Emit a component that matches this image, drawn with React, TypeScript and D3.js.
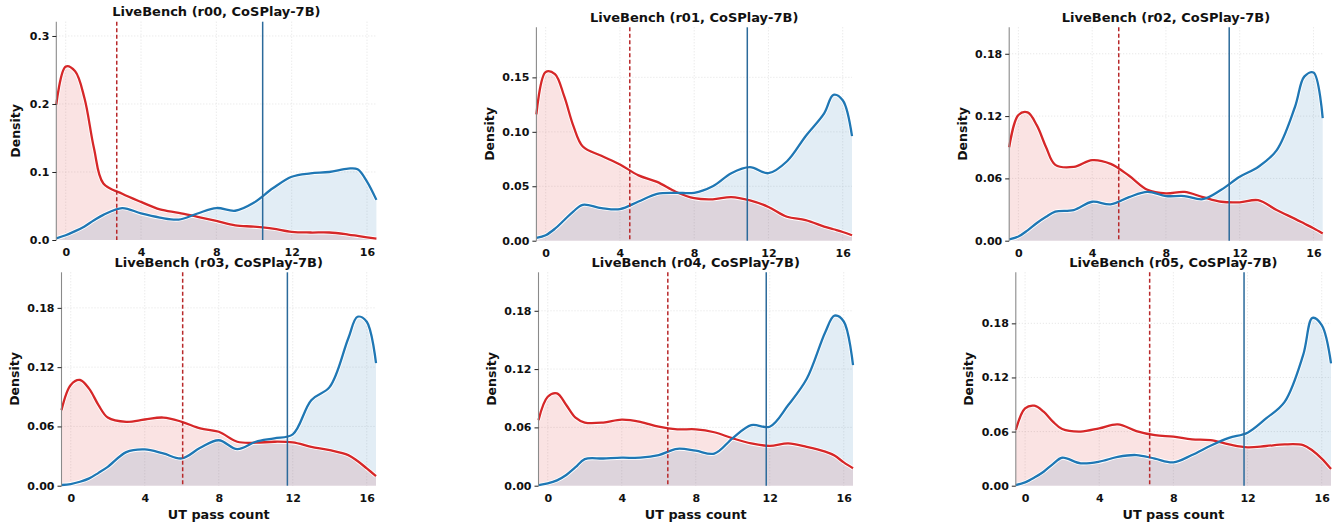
import React, { useEffect, useRef } from 'react';
import * as d3 from 'd3';

// UT pass count grid the densities were read at
const xGrid = [-0.5, 0, 0.5, 1, 1.5, 2, 3, 4, 5, 6, 7, 8, 9, 10, 11, 12, 13, 14, 15, 15.5, 16, 16.5];

const runs = ['r00', 'r01', 'r02', 'r03', 'r04', 'r05'];

const red_r00 = [0.199, 0.255, 0.248, 0.208, 0.135, 0.083, 0.068, 0.056, 0.045, 0.040, 0.034, 0.028, 0.0216, 0.0196, 0.0167, 0.012, 0.011, 0.011, 0.008, 0.006, 0.004, 0.002];
const blue_r00 = [0.0025, 0.007, 0.013, 0.020, 0.029, 0.037, 0.047, 0.039, 0.033, 0.030, 0.039, 0.047, 0.043, 0.055, 0.076, 0.093, 0.098, 0.100, 0.105, 0.104, 0.086, 0.059];

const red_r01 = [0.116, 0.155, 0.153, 0.1325, 0.105, 0.0865, 0.078, 0.070, 0.060, 0.054, 0.045, 0.039, 0.038, 0.040, 0.037, 0.031, 0.022, 0.019, 0.013, 0.0105, 0.008, 0.005];
const blue_r01 = [0.0025, 0.005, 0.011, 0.019, 0.027, 0.033, 0.030, 0.029, 0.036, 0.043, 0.044, 0.044, 0.050, 0.062, 0.0675, 0.062, 0.073, 0.096, 0.117, 0.134, 0.129, 0.096];

const red_r02 = [0.090, 0.121, 0.1235, 0.111, 0.090, 0.073, 0.071, 0.0776, 0.074, 0.0625, 0.049, 0.0455, 0.047, 0.042, 0.0375, 0.037, 0.039, 0.0295, 0.021, 0.0165, 0.012, 0.007];
const blue_r02 = [0.0013, 0.004, 0.010, 0.017, 0.023, 0.028, 0.0295, 0.0375, 0.035, 0.042, 0.047, 0.043, 0.043, 0.040, 0.049, 0.0615, 0.071, 0.087, 0.129, 0.158, 0.162, 0.118];

const red_r03 = [0.0765, 0.102, 0.107, 0.098, 0.0816, 0.069, 0.0647, 0.067, 0.069, 0.0647, 0.058, 0.0546, 0.0445, 0.0435, 0.0445, 0.0438, 0.0394, 0.036, 0.031, 0.025, 0.0175, 0.0098];
const blue_r03 = [0.0007, 0.0017, 0.004, 0.0074, 0.013, 0.019, 0.034, 0.0367, 0.0327, 0.0276, 0.0384, 0.046, 0.037, 0.0445, 0.048, 0.052, 0.0866, 0.100, 0.149, 0.171, 0.166, 0.124];

const red_r04 = [0.0675, 0.0915, 0.095, 0.083, 0.070, 0.065, 0.065, 0.068, 0.0658, 0.0607, 0.058, 0.058, 0.055, 0.0487, 0.0435, 0.041, 0.0435, 0.040, 0.035, 0.031, 0.024, 0.018];
const blue_r04 = [0.0007, 0.0024, 0.0055, 0.011, 0.019, 0.0274, 0.028, 0.0288, 0.0288, 0.0315, 0.038, 0.036, 0.033, 0.049, 0.0624, 0.0607, 0.083, 0.110, 0.158, 0.175, 0.169, 0.124];

const red_r05 = [0.0617, 0.0857, 0.0887, 0.082, 0.071, 0.0628, 0.060, 0.0636, 0.068, 0.0606, 0.056, 0.0543, 0.0514, 0.0506, 0.0458, 0.0425, 0.044, 0.0458, 0.045, 0.039, 0.030, 0.0185];
const blue_r05 = [0.0007, 0.0037, 0.009, 0.0155, 0.024, 0.031, 0.0248, 0.0266, 0.032, 0.034, 0.030, 0.0259, 0.034, 0.0443, 0.053, 0.0588, 0.0746, 0.093, 0.145, 0.186, 0.178, 0.1356];

const redSeries = [red_r00, red_r01, red_r02, red_r03, red_r04, red_r05];
const blueSeries = [blue_r00, blue_r01, blue_r02, blue_r03, blue_r04, blue_r05];

// means (vertical reference lines)
const redMean = [2.71, 4.53, 5.44, 6.05, 6.49, 6.72];
const blueMean = [10.46, 10.86, 11.43, 11.71, 11.81, 11.81];

// axis limits and ticks
const yMax = [0.321, 0.196, 0.2055, 0.216, 0.2196, 0.2366];
const yTicks = [
  [0, 0.1, 0.2, 0.3],
  [0, 0.05, 0.1, 0.15],
  [0, 0.06, 0.12, 0.18],
  [0, 0.06, 0.12, 0.18],
  [0, 0.06, 0.12, 0.18],
  [0, 0.06, 0.12, 0.18],
];
const yDecimals = [1, 2, 2, 2, 2, 2];
const xTicks = [0, 4, 8, 12, 16];
const xDomain = [-0.5, 16.5];

// panel boxes in pixels
const boxes = [
  { l: 56.3, r: 376.4, t: 21.7, b: 240 },
  { l: 536.4, r: 852, t: 27.3, b: 240.7 },
  { l: 1009.2, r: 1322.7, t: 27.3, b: 240.7 },
  { l: 61.5, r: 376, t: 272.3, b: 485.7 },
  { l: 538.5, r: 853, t: 272.3, b: 485.7 },
  { l: 1015.8, r: 1331, t: 272.3, b: 485.7 },
];

const W = 1341;
const H = 527;
const FONT = '"DejaVu Sans", sans-serif';

function App() {
  const svgRef = useRef(null);

  useEffect(() => {
    const svg = d3.select(svgRef.current);
    svg.selectAll('*').remove();

    runs.forEach((run, i) => {
      const box = boxes[i];
      const g = svg.append('g');

      const x = d3.scaleLinear().domain(xDomain).range([box.l, box.r]);
      const y = d3.scaleLinear().domain([0, yMax[i]]).range([box.b, box.t]);

      // grid
      g.selectAll('.vgrid')
        .data(xTicks)
        .join('line')
        .attr('x1', d => x(d)).attr('x2', d => x(d))
        .attr('y1', box.t).attr('y2', box.b)
        .attr('stroke', '#dcdcdc').attr('stroke-width', 0.8)
        .attr('stroke-dasharray', '1,2');
      g.selectAll('.hgrid')
        .data(yTicks[i].slice(1))
        .join('line')
        .attr('x1', box.l).attr('x2', box.r)
        .attr('y1', d => y(d)).attr('y2', d => y(d))
        .attr('stroke', '#dcdcdc').attr('stroke-width', 0.8)
        .attr('stroke-dasharray', '1,2');

      const pts = (vals) => vals.map((v, k) => [xGrid[k], v]);

      const area = d3.area()
        .x(d => x(d[0]))
        .y0(y(0))
        .y1(d => y(d[1]))
        .curve(d3.curveCatmullRom);
      const line = d3.line()
        .x(d => x(d[0]))
        .y(d => y(d[1]))
        .curve(d3.curveCatmullRom);

      const red = pts(redSeries[i]);
      const blue = pts(blueSeries[i]);

      // fills
      g.append('path').attr('d', area(red))
        .attr('fill', '#d62728').attr('fill-opacity', 0.13);
      g.append('path').attr('d', area(blue))
        .attr('fill', '#1f77b4').attr('fill-opacity', 0.13);

      // white edges under the lines
      [red, blue].forEach(s => {
        g.append('path').attr('d', line(s))
          .attr('fill', 'none').attr('stroke', '#fff').attr('stroke-width', 4);
      });

      g.append('path').attr('d', line(red))
        .attr('fill', 'none').attr('stroke', '#d62728').attr('stroke-width', 2.3);
      g.append('path').attr('d', line(blue))
        .attr('fill', 'none').attr('stroke', '#1f77b4').attr('stroke-width', 2.3);

      // mean lines
      g.append('line')
        .attr('x1', x(redMean[i])).attr('x2', x(redMean[i]))
        .attr('y1', box.t).attr('y2', box.b)
        .attr('stroke', '#b8282a').attr('stroke-width', 1.5)
        .attr('stroke-dasharray', '4,2.5');
      g.append('line')
        .attr('x1', x(blueMean[i])).attr('x2', x(blueMean[i]))
        .attr('y1', box.t).attr('y2', box.b)
        .attr('stroke', '#2b6a9b').attr('stroke-width', 1.5);

      // left spine
      g.append('line')
        .attr('x1', box.l).attr('x2', box.l)
        .attr('y1', box.t).attr('y2', box.b)
        .attr('stroke', '#8a8a8a').attr('stroke-width', 1.1);

      // y axis
      const yAxis = d3.axisLeft(y)
        .tickValues(yTicks[i])
        .tickSize(4)
        .tickPadding(3)
        .tickFormat(d3.format('.' + yDecimals[i] + 'f'));
      const ya = g.append('g')
        .attr('transform', 'translate(' + box.l + ',0)')
        .call(yAxis);
      ya.select('.domain').remove();
      ya.selectAll('line').attr('stroke', '#222').attr('stroke-width', 1);
      ya.selectAll('text')
        .attr('font-family', FONT).attr('font-weight', 'bold')
        .attr('font-size', 11).attr('fill', '#111');

      // x axis
      const xAxis = d3.axisBottom(x)
        .tickValues(xTicks)
        .tickSize(0)
        .tickPadding(8.5)
        .tickFormat(d3.format('d'));
      const xa = g.append('g')
        .attr('transform', 'translate(0,' + box.b + ')')
        .call(xAxis);
      xa.select('.domain').remove();
      xa.selectAll('text')
        .attr('font-family', FONT).attr('font-weight', 'bold')
        .attr('font-size', 11).attr('fill', '#111');

      // title
      g.append('text')
        .attr('x', (box.l + box.r) / 2)
        .attr('y', box.t - 10)
        .attr('dy', '0.35em')
        .attr('text-anchor', 'middle')
        .attr('font-family', FONT).attr('font-weight', 'bold')
        .attr('font-size', 13).attr('fill', '#111')
        .text('LiveBench (' + run + ', CoSPlay-7B)');

      // y label
      const lx = box.l - (yDecimals[i] === 1 ? 41 : 47);
      const ly = (box.t + box.b) / 2;
      g.append('text')
        .attr('transform', 'translate(' + lx + ',' + ly + ') rotate(-90)')
        .attr('dy', '0.35em')
        .attr('text-anchor', 'middle')
        .attr('font-family', FONT).attr('font-weight', 'bold')
        .attr('font-size', 12.5).attr('fill', '#111')
        .text('Density');

      // x label on bottom row
      if (i >= 3) {
        g.append('text')
          .attr('x', (box.l + box.r) / 2)
          .attr('y', box.b + 28.6)
          .attr('dy', '0.35em')
          .attr('text-anchor', 'middle')
          .attr('font-family', FONT).attr('font-weight', 'bold')
          .attr('font-size', 12.8).attr('fill', '#111')
          .text('UT pass count');
      }
    });
  }, []);

  return (
    <div style={{ position: 'absolute', left: 0, top: 0 }}>
      <svg ref={svgRef} width={W} height={H} style={{ display: 'block', background: '#fff' }} />
    </div>
  );
}

export default App;
